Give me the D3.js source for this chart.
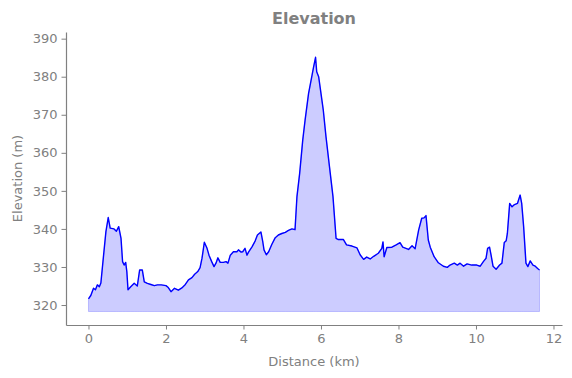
<!DOCTYPE html>
<html lang="en">
<head>
<meta charset="UTF-8">
<title>Elevation</title>
<script src="https://d3js.org/d3.v7.min.js"></script>
<style>
  html, body { margin:0; padding:0; background:#fff; font-family:"DejaVu Sans", sans-serif; }
  .axis path, .axis line { stroke:#808080; }
  .axis text { fill:#808080; font-size:13px; font-family:"DejaVu Sans", sans-serif; }
</style>
</head>
<body>
<div id="chart"></div>
<script>
// distance along the track (km)
const distance=[0,0.06,0.13,0.18,0.23,0.28,0.32,0.39,0.45,0.51,0.56,0.66,0.72,0.78,0.84,0.88,0.92,0.96,0.99,
  1.02,1.09,1.18,1.26,1.32,1.39,1.44,1.52,1.61,1.70,1.78,1.88,2.00,2.06,2.13,2.22,2.32,2.41,2.50,2.58,2.67,
  2.74,2.82,2.88,2.93,2.99,3.06,3.11,3.18,3.24,3.29,3.34,3.40,3.48,3.55,3.60,3.66,3.74,3.83,3.87,3.94,3.98,
  4.04,4.09,4.13,4.22,4.30,4.36,4.45,4.50,4.53,4.59,4.65,4.73,4.82,4.90,4.99,5.08,5.16,5.25,5.33,5.38,5.45,
  5.53,5.59,5.68,5.77,5.81,5.86,5.89,5.94,6.00,6.06,6.13,6.22,6.31,6.39,6.45,6.58,6.66,6.80,6.93,7.01,7.10,
  7.18,7.27,7.36,7.48,7.57,7.60,7.63,7.70,7.83,7.94,8.04,8.11,8.26,8.35,8.43,8.52,8.60,8.66,8.71,8.77,8.82,
  8.92,9.03,9.16,9.26,9.33,9.44,9.52,9.59,9.68,9.77,9.89,10.02,10.11,10.19,10.26,10.30,10.35,10.39,10.44,
  10.52,10.61,10.67,10.73,10.78,10.81,10.87,10.93,10.98,11.07,11.14,11.18,11.23,11.29,11.34,11.40,11.47,
  11.53,11.59,11.64];
// elevation (m)
const elevation=[321.6,322.5,324.4,324.0,325.3,324.8,325.8,333.1,339.3,343.0,340.2,340.0,339.4,340.6,337.5,331.4,330.5,331.2,328.8,
  324.0,324.8,325.7,325.0,329.2,329.2,326.1,325.7,325.4,325.1,325.3,325.3,325.1,324.6,323.5,324.4,323.9,324.5,325.4,326.6,327.2,
  328.1,328.8,329.8,332.3,336.5,334.9,333.1,331.4,330.1,331.0,332.4,331.2,331.2,331.4,331.0,333.1,334.0,334.0,334.5,333.9,334.0,
  334.9,333.1,333.9,335.3,336.8,338.4,339.2,336.5,334.5,333.2,334.0,335.9,337.7,338.4,338.8,339.1,339.6,340.0,339.8,348.5,354.6,
  363.4,368.6,375.6,380.4,382.6,385.1,381.3,380.0,375.6,371.2,364.2,356.3,348.5,337.5,337.2,337.2,335.8,335.5,335.0,333.2,332.0,
  332.6,332.1,332.8,333.6,334.9,336.6,332.7,335.1,335.2,335.8,336.4,335.2,334.6,335.6,334.8,339.7,342.8,342.9,343.5,337.1,335.2,
  332.7,331.1,330.2,329.9,330.5,331.0,330.5,331.0,330.2,330.8,330.5,330.5,330.2,331.4,332.3,334.9,335.2,333.1,330.2,
  329.4,330.5,331.0,336.4,336.9,338.8,346.7,345.8,346.3,346.7,348.9,346.7,340.6,331.0,330.1,331.6,330.5,
  330.2,329.6,329.2];
const fillBase=318.3;
const xTicks=[0,2,4,6,8,10,12];
const yTicks=[320,330,340,350,360,370,380,390];

const W=572,H=378;
const margin={top:32,right:10,bottom:53,left:66};
const data=distance.map((d,i)=>({d:d,e:elevation[i]}));

const svg=d3.select("#chart").append("svg").attr("width",W).attr("height",H);
const x=d3.scaleLinear().domain([-0.58,12.22]).range([margin.left,W-margin.right]);
const y=d3.scaleLinear().domain([314.75,391.75]).range([H-margin.bottom,margin.top]);

svg.append("path").datum(data)
  .attr("d",d3.area().x(p=>x(p.d)).y0(y(fillBase)).y1(p=>y(p.e)))
  .attr("fill","rgba(0,0,255,0.2)").attr("stroke","rgba(0,0,255,0.2)").attr("stroke-width",1);
svg.append("path").datum(data)
  .attr("d",d3.line().x(p=>x(p.d)).y(p=>y(p.e)))
  .attr("fill","none").attr("stroke","#0000ff").attr("stroke-width",1.4).attr("stroke-linejoin","round");

const xAxis=svg.append("g").attr("class","axis").attr("transform","translate(0,"+(H-margin.bottom)+")")
  .call(d3.axisBottom(x).tickValues(xTicks).tickFormat(d3.format("d")).tickSize(4.5).tickPadding(4).tickSizeOuter(0));
const yAxis=svg.append("g").attr("class","axis").attr("transform","translate("+margin.left+",0)")
  .call(d3.axisLeft(y).tickValues(yTicks).tickFormat(d3.format("d")).tickSize(4.5).tickPadding(4).tickSizeOuter(0));
svg.selectAll(".axis .domain").attr("stroke-width",1.2);

svg.append("text").attr("x",(margin.left+W-margin.right)/2).attr("y",24)
  .attr("text-anchor","middle").attr("font-weight","bold").attr("font-size",16).attr("fill","#808080")
  .text("Elevation");
svg.append("text").attr("x",(margin.left+W-margin.right)/2).attr("y",366)
  .attr("text-anchor","middle").attr("font-size",13).attr("fill","#808080")
  .text("Distance (km)");
svg.append("text").attr("transform","translate(22,"+((margin.top+H-margin.bottom)/2)+") rotate(-90)")
  .attr("text-anchor","middle").attr("font-size",13).attr("fill","#808080")
  .text("Elevation (m)");
</script>
</body>
</html>
